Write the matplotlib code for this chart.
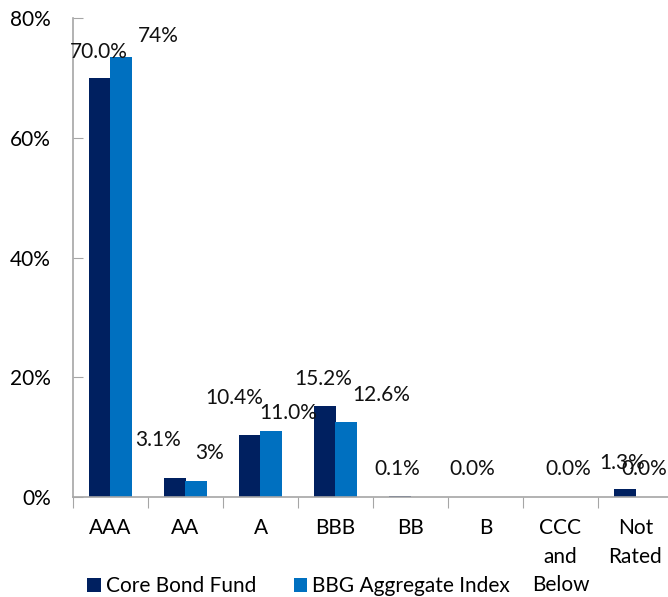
import numpy as np
import matplotlib
matplotlib.use("Agg")
import matplotlib.pyplot as plt
from matplotlib.patches import Patch

plt.rcParams['font.family'] = ['Lato', 'DejaVu Sans']

categories = ["AAA", "AA", "A", "BBB", "BB", "B", "CCC\nand\nBelow", "Not\nRated"]
core_bond = [70.0, 3.1, 10.4, 15.2, 0.1, 0.0, 0.0, 1.3]
bbg_agg = [73.6, 2.7, 11.0, 12.6, np.nan, np.nan, np.nan, 0.0]
core_labels = ["70.0%", "3.1%", "10.4%", "15.2%", "0.1%", "0.0%", "0.0%", "1.3%"]
bbg_labels = ["74%", "3%", "11.0%", "12.6%", None, None, None, "0.0%"]
yticks = [0, 20, 40, 60, 80]
ytick_labels = ["0%", "20%", "40%", "60%", "80%"]

# label offsets (category units, percent units) relative to bar top-centre
core_off = [(-0.01, 4.4), (-0.22, 6.4), (-0.21, 6.1), (-0.02, 4.5), (-0.03, 4.5), (-0.03, 4.6), (0.25, 4.6), (-0.03, 4.3)]
bbg_off = [(0.49, 3.4), (0.18, 4.6), (0.23, 3.0), (0.47, 4.4), None, None, None, (-0.03, 4.6)]

NAVY = "#002060"
BLUE = "#0070C0"
FS = 15

fig = plt.figure(figsize=(6.68, 5.97), dpi=100)
ax = fig.add_axes([73 / 668, 1 - 497 / 597, 600 / 668, (497 - 18.3) / 597])

x = np.arange(len(categories))
w = 0.285
off = 0.142
ax.bar(x - off, core_bond, w, color=NAVY, zorder=2)
ax.bar(x + off, bbg_agg, w, color=BLUE, zorder=2)

for i in range(len(categories)):
    if core_labels[i] is not None:
        dx, dy = core_off[i]
        ax.text(x[i] - off + dx, core_bond[i] + dy, core_labels[i], ha="center", va="center",
                fontsize=FS, color="#111111", zorder=3)
    if bbg_labels[i] is not None:
        dx, dy = bbg_off[i]
        ax.text(x[i] + off + dx, bbg_agg[i] + dy, bbg_labels[i], ha="center", va="center",
                fontsize=FS, color="#111111", zorder=3)

ax.set_xlim(-0.5, len(categories) - 0.5)
ax.set_ylim(0, 80)
ax.set_yticks(yticks)
ax.set_yticklabels(ytick_labels, fontsize=FS)
ax.tick_params(axis="y", direction="in", length=7, color="#A6A6A6", pad=16)

ax.set_xticks(np.arange(len(categories) + 1) - 0.5, minor=False)
ax.set_xticklabels([])
ax.tick_params(axis="x", direction="out", length=8, color="#A6A6A6")
ax.set_xticks(x, minor=True)
ax.set_xticklabels(categories, minor=True, fontsize=FS, linespacing=1.55, va="top")
ax.tick_params(axis="x", which="minor", length=0, pad=15)

for s in ["top", "right"]:
    ax.spines[s].set_visible(False)
for s in ["left", "bottom"]:
    ax.spines[s].set_color("#A6A6A6")
    ax.spines[s].set_linewidth(1.2)

handles = [Patch(facecolor=NAVY, label="Core Bond Fund"),
           Patch(facecolor=BLUE, label="BBG Aggregate Index")]
fig.legend(handles=handles, loc="center left", bbox_to_anchor=(87 / 668, 1 - 586 / 597), ncol=2,
           frameon=False, fontsize=FS, handlelength=0.65, handleheight=0.65, handletextpad=0.25,
           columnspacing=1.8, borderaxespad=0, borderpad=0)

fig.savefig("out.png", dpi=100)
